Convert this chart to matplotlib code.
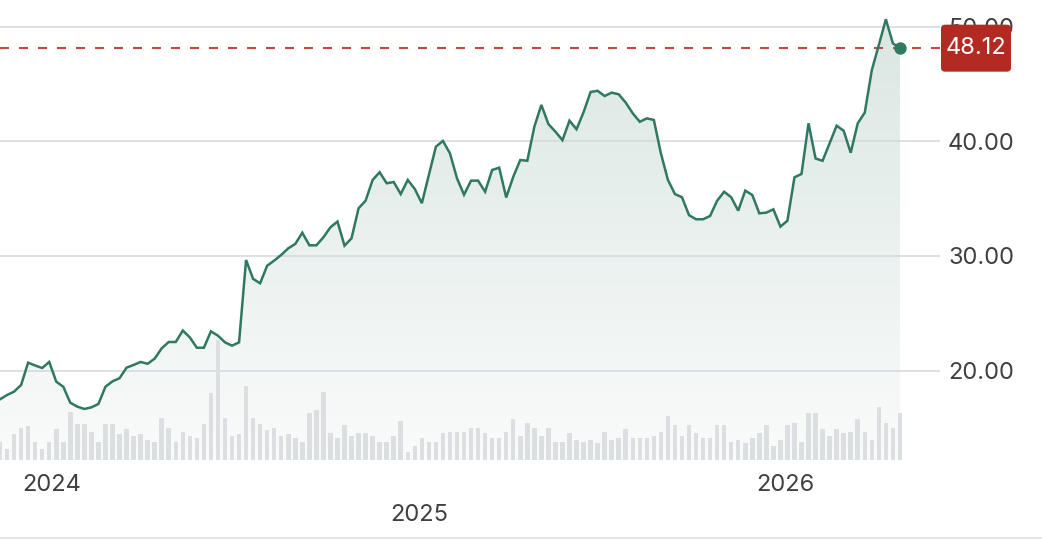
import numpy as np
import pandas as pd
import matplotlib
matplotlib.use("Agg")
import matplotlib.pyplot as plt
import matplotlib.dates as mdates
from matplotlib.patches import Polygon, FancyBboxPatch
from matplotlib.lines import Line2D
from matplotlib.ticker import FormatStrFormatter
import matplotlib.transforms as mtransforms

plt.rcParams['font.family'] = ['Inter', 'DejaVu Sans']
plt.rcParams['lines.scale_dashes'] = False

# ---------------- data ----------------
start_date = "2023-11-11"
prices = [17.50, 17.88, 18.17, 18.75, 20.70, 20.45, 20.23, 20.76, 19.04, 18.60,
          17.20, 16.86, 16.66, 16.80, 17.10, 18.60, 19.07, 19.34, 20.26, 20.50,
          20.76, 20.60, 21.05, 21.95, 22.50, 22.50, 23.50, 22.90, 22.00, 22.00,
          23.43, 23.05, 22.47, 22.18, 22.47, 29.65, 28.00, 27.62, 29.15, 29.60,
          30.09, 30.67, 31.05, 32.03, 30.93, 30.93, 31.63, 32.50, 33.00, 30.90,
          31.54, 34.16, 34.82, 36.63, 37.30, 36.34, 36.45, 35.40, 36.63, 35.84,
          34.60, 37.05, 39.53, 40.03, 38.95, 36.77, 35.34, 36.57, 36.57, 35.60,
          37.50, 37.70, 35.10, 36.90, 38.37, 38.30, 41.27, 43.17, 41.50, 40.84,
          40.10, 41.80, 41.05, 42.53, 44.30, 44.40, 43.95, 44.24, 44.10, 43.37,
          42.44, 41.70, 42.00, 41.86, 38.95, 36.63, 35.40, 35.12, 33.56, 33.20,
          33.20, 33.49, 34.82, 35.60, 35.12, 33.95, 35.70, 35.32, 33.72, 33.78,
          34.07, 32.56, 33.08, 36.86, 37.15, 41.57, 38.50, 38.30, 39.82, 41.36,
          40.92, 39.00, 41.57, 42.50, 46.20, 48.40, 50.64, 48.54, 48.12]
volumes = [1.8, 1.1, 2.6, 3.2, 3.4, 1.8, 1.1, 1.8, 3.1, 1.8,
           4.8, 3.6, 3.6, 2.8, 1.8, 3.6, 3.6, 2.6, 3.1, 2.4,
           2.6, 2.0, 1.8, 4.2, 3.2, 1.8, 2.8, 2.4, 2.2, 3.6,
           6.7, 12.0, 4.2, 2.4, 2.6, 7.4, 4.2, 3.6, 3.0, 3.2,
           2.4, 2.6, 2.2, 1.8, 4.7, 5.0, 6.8, 2.7, 2.2, 3.5,
           2.4, 2.7, 2.7, 2.4, 1.8, 1.8, 2.4, 3.9, 0.8, 1.4,
           2.2, 1.8, 1.8, 2.7, 2.8, 2.8, 2.8, 3.2, 3.2, 2.7,
           2.2, 2.2, 2.8, 4.1, 2.4, 3.7, 3.2, 2.4, 3.2, 1.8,
           1.8, 2.7, 2.0, 1.8, 2.0, 1.7, 2.8, 2.0, 2.2, 3.1,
           2.2, 2.2, 2.2, 2.4, 2.8, 4.4, 3.5, 2.4, 3.5, 2.7,
           2.2, 2.2, 3.5, 3.5, 1.8, 2.0, 1.7, 2.2, 2.7, 3.5,
           1.4, 2.0, 3.5, 3.7, 1.8, 4.7, 4.7, 3.1, 2.4, 3.1,
           2.7, 2.8, 4.1, 2.8, 2.0, 5.3, 3.7, 3.2, 4.7]
last_price = 48.12
y_ticks = [20, 30, 40, 50]
x_tick_dates = ["2024-01-01", "2025-01-01", "2026-01-01"]
x_tick_labels = ["2024", "2025", "2026"]

# ---------------- figure ----------------
W, H, DPI = 1042, 540, 100
PX = 72 / DPI
fig = plt.figure(figsize=(W / DPI, H / DPI), dpi=DPI)
fig.patch.set_facecolor('white')

dates = pd.date_range(start_date, periods=len(prices), freq="7D")
xnum = mdates.date2num(dates)
YLO, YHI = 12.21, 52.32
XLO, XHI = xnum[0], xnum[0] + 133.7 * 7
AX_W_PX, AX_H_PX = 940, 460

ax = fig.add_axes([0, 80 / H, AX_W_PX / W, AX_H_PX / H])
ax.set_facecolor('none')

# gradient fill under the line
verts = [(xnum[0], YLO)] + list(zip(xnum, prices)) + [(xnum[-1], YLO)]
poly = Polygon(verts, closed=True, facecolor='none', edgecolor='none')
ax.add_patch(poly)
top_c = np.array([217, 230, 226]) / 255
bot_c = np.array([250, 251, 251]) / 255
t = np.linspace(0, 1, 256)[:, None, None]
img = top_c[None, None, :] * (1 - t) + bot_c[None, None, :] * t
im = ax.imshow(img, extent=[XLO, XHI, YLO, YHI], aspect='auto', origin='upper',
               zorder=1, interpolation='bilinear')
im.set_clip_path(poly)

ax.plot(dates, prices, color='#2f7862', lw=1.8, zorder=3, solid_joinstyle='miter')
ax.axhline(last_price, color='#c4493f', lw=1.5, dashes=(9 * PX, 10 * PX), zorder=2.8)
ax.plot([dates[-1]], [last_price], 'o', ms=11 * PX, color='#2e7a64', zorder=4, clip_on=False)

ax.set_xlim(XLO, XHI)
ax.set_ylim(YLO, YHI)
ax.set_yticks(y_ticks)
ax.yaxis.set_major_formatter(FormatStrFormatter('%.2f'))
ax.yaxis.tick_right()
ax.set_axisbelow('line')
ax.grid(axis='y', color='#d6d9dd', lw=1.6 * PX)
ax.grid(axis='x', visible=False)
for s in ax.spines.values():
    s.set_visible(False)
ax.tick_params(axis='y', length=0, pad=8 * PX, labelsize=17, labelcolor='#3f3f3f')
ax.set_xticks(mdates.date2num(pd.to_datetime(x_tick_dates)))
ax.set_xticklabels(x_tick_labels)
ax.tick_params(axis='x', length=0, pad=14 * PX, labelsize=17, labelcolor='#3f3f3f')
ax.xaxis.get_major_ticks()[1].set_pad(44 * PX)

# last price label (box sized in pixels, centred on the last price)
trans = mtransforms.blended_transform_factory(ax.transAxes, ax.transData)
data_per_px = (YHI - YLO) / AX_H_PX
box_w, box_h, box_r = 70 / AX_W_PX, 47 * data_per_px, 4 / AX_W_PX
box_x = 941 / AX_W_PX
box = FancyBboxPatch((box_x, last_price - box_h / 2), box_w, box_h,
                     boxstyle=f'round,pad=0,rounding_size={box_r}',
                     mutation_aspect=data_per_px * AX_W_PX,
                     transform=trans, fc='#b22a21', ec='none', zorder=5, clip_on=False)
ax.add_patch(box)
ax.text(box_x + box_w / 2, last_price, f"{last_price:.2f}", transform=trans,
        ha='center', va='center', color='white', fontsize=17, zorder=6, clip_on=False)

# volume bars
vax = fig.add_axes([0, 80 / H, AX_W_PX / W, 130 / H], sharex=ax)
vax.bar(dates, volumes, width=4.5, color='#dcdfe2', zorder=2)
vax.set_ylim(0, 13.0)
vax.set_facecolor('none')
vax.axis('off')
ax.set_xlim(XLO, XHI)

# bottom rule
fig.add_artist(Line2D([0, 1], [2 / H, 2 / H], transform=fig.transFigure, color='#e3e4e6', lw=2 * PX))

fig.savefig('out.png', dpi=DPI)
